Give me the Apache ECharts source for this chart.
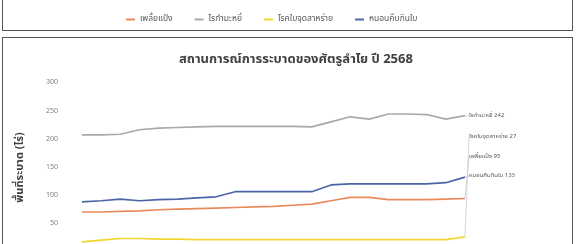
<!DOCTYPE html>
<html>
<head>
<meta charset="utf-8">
<script src="https://cdn.jsdelivr.net/npm/echarts@6/dist/echarts.min.js"></script>
<style>
  html, body { margin: 0; padding: 0; background: #fff; overflow: hidden; }
  .wrap { position: relative; width: 576px; height: 244px; overflow: hidden; }
  #chart { position: absolute; left: 0; top: 0; width: 576px; height: 260px; }
  .panel { position: absolute; border: 1.5px solid #555; pointer-events: none; }
</style>
</head>
<body>
<div class="wrap">
  <div id="chart"></div>
  <div class="panel" style="left:2px; top:-4px; width:569px; height:33px;"></div>
  <div class="panel" style="left:2px; top:37px; width:569px; height:240px;"></div>
</div>
<script>
// ช่วงเวลา (21 จุด)
const periods = ['1','2','3','4','5','6','7','8','9','10','11','12','13','14','15','16','17','18','19','20','21'];
const names = ['เพลี้ยแป้ง', 'ไรกำมะหยี่', 'โรคใบจุดสาหร่าย', 'หนอนคืบกินใบ'];
const mealybug = [71, 71, 72, 73, 75, 76, 77, 78, 79, 80, 81, 83, 85, 91, 97, 97, 93, 93, 93, 94, 95];
const velvetMite = [208, 208, 209, 217, 220, 221, 222, 223, 223, 223, 223, 223, 222, 231, 240, 236, 245, 245, 244, 236, 242];
const algalSpot = [18, 21, 24, 24, 23, 23, 22, 22, 22, 22, 22, 22, 22, 22, 22, 22, 22, 22, 22, 22, 27];
const looper = [89, 91, 94, 91, 93, 94, 96, 98, 107, 107, 107, 107, 107, 119, 121, 121, 121, 121, 121, 123, 133];
const colors = ['#ea8a5c', '#a9a9a9', '#f1d631', '#4a66a6'];
const labelYs = [157, 116, 137, 176];

const thai = "'Noto Sans Thai', 'Tahoma', 'Noto Sans', 'DejaVu Sans', sans-serif";
const last = periods.length - 1;

function makeSeries(idx, values) {
  return {
    name: names[idx],
    type: 'line',
    symbol: 'circle',
    symbolSize: 0,
    showSymbol: true,
    smooth: false,
    lineStyle: { width: 1.7, color: colors[idx] },
    itemStyle: { color: colors[idx] },
    label: { show: false },
    labelLine: { show: true, lineStyle: { color: '#cccccc', width: 0.8 } },
    labelLayout: function (p) {
      if (p.dataIndex !== last) return {};
      return { x: 469, y: labelYs[p.seriesIndex], align: 'left', verticalAlign: 'middle' };
    },
    data: values.map(function (v, i) {
      if (i !== last) return v;
      return {
        value: v,
        label: {
          show: true, position: 'right', formatter: '{a} {c}',
          fontSize: 6, color: '#595959', fontFamily: thai
        }
      };
    })
  };
}

const chart = echarts.init(document.getElementById('chart'));
chart.setOption({
  animation: false,
  textStyle: { fontFamily: thai },
  title: {
    text: 'สถานการณ์การระบาดของศัตรูลำไย ปี 2568',
    left: 174,
    top: 49,
    textStyle: { fontSize: 13, fontWeight: 'bold', color: '#404040', fontFamily: thai }
  },
  legend: {
    top: 10,
    left: 121,
    itemWidth: 9,
    itemHeight: 2,
    itemGap: 22,
    icon: 'rect',
    textStyle: { fontSize: 8.5, color: '#595959', fontFamily: thai },
    data: names
  },
  grid: { left: 82, right: 111, top: 83, bottom: 8 },
  xAxis: {
    type: 'category',
    data: periods,
    boundaryGap: false,
    axisLine: { show: false },
    axisTick: { show: false },
    axisLabel: { show: false },
    splitLine: { show: false }
  },
  yAxis: {
    type: 'value',
    min: 0,
    max: 300,
    interval: 50,
    name: 'พื้นที่ระบาด (ไร่)',
    nameLocation: 'middle',
    nameGap: 56,
    nameTextStyle: { fontSize: 11, fontWeight: 'bold', color: '#404040', fontFamily: thai },
    axisLine: { show: false },
    axisTick: { show: false },
    splitLine: { show: false },
    axisLabel: { fontSize: 7, color: '#7f7f7f', margin: 24 }
  },
  series: [
    makeSeries(0, mealybug),
    makeSeries(1, velvetMite),
    makeSeries(2, algalSpot),
    makeSeries(3, looper)
  ]
});
</script>
</body>
</html>
